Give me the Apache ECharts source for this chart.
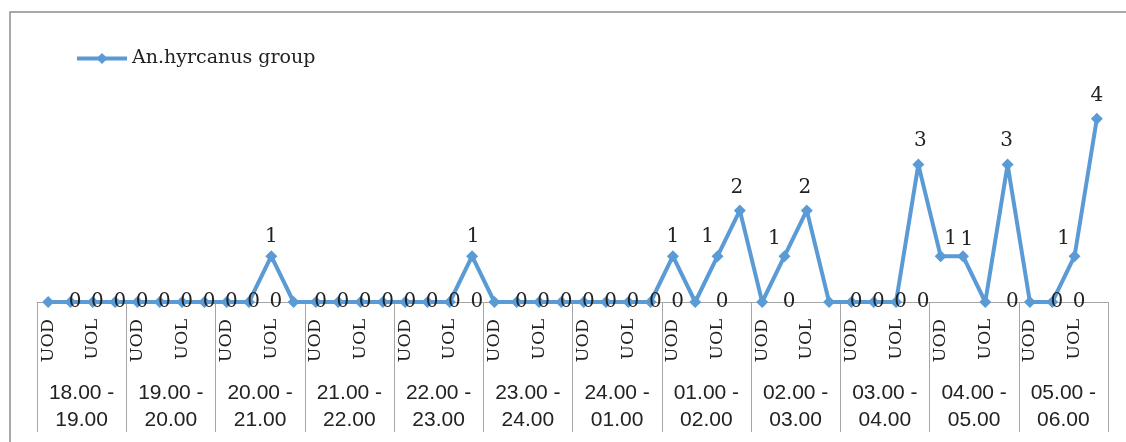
<!DOCTYPE html>
<html>
<head>
<meta charset="utf-8">
<script src="https://cdn.jsdelivr.net/npm/echarts@6/dist/echarts.min.js"></script>
<style>
  html, body { margin: 0; padding: 0; background: #fff; }
  #chart { width: 1126px; height: 442px; }
</style>
</head>
<body>
<div id="chart"></div>
<script>
// Hourly catches, two records under each UOD / UOL slot
const hours = [
  '18.00 -\n19.00', '19.00 -\n20.00', '20.00 -\n21.00', '21.00 -\n22.00',
  '22.00 -\n23.00', '23.00 -\n24.00', '24.00 -\n01.00', '01.00 -\n02.00',
  '02.00 -\n03.00', '03.00 -\n04.00', '04.00 -\n05.00', '05.00 -\n06.00'
];
const sites = ['UOD', 'UOL'];
const seriesName = 'An.hyrcanus group';
const counts = [
  0, 0, 0, 0,   0, 0, 0, 0,   0, 0, 1, 0,   0, 0, 0, 0,
  0, 0, 0, 1,   0, 0, 0, 0,   0, 0, 0, 0,   1, 0, 1, 2,
  0, 1, 2, 0,   0, 0, 0, 3,   1, 1, 0, 3,   0, 0, 1, 4
];

// Label nudges where neighbouring labels would collide: index -> [dx, distance]
const labelShift = {
  10: [0, 3], 19: [1, 3], 28: [0, 3], 30: [-10, 3], 31: [-3, 7],
  33: [-10, 1], 34: [-2, 7], 39: [2, 8], 40: [10, 1], 41: [4, 0],
  43: [-1, 8], 46: [-11, 1], 47: [0, 7]
};

const serif = 'DejaVu Serif';
const textColor = '#222';
const lineColor = '#5B9BD5';

// Inner axis: one slot label per pair of records
const slotLabels = [];
hours.forEach(() => {
  sites.forEach(s => { slotLabels.push(s); slotLabels.push(''); });
});

const seriesData = counts.map((v, i) => {
  if (v === 0) {
    return { value: v, label: { position: 'inside', offset: [27, 0] } };
  }
  const sh = labelShift[i] || [0, 3];
  return { value: v, label: { position: 'top', distance: sh[1], offset: [sh[0], 0] } };
});

const chart = echarts.init(document.getElementById('chart'), null, { renderer: 'canvas' });
chart.setOption({
  animation: false,
  backgroundColor: '#fff',
  graphic: [{
    type: 'rect',
    shape: { x: 10, y: 12, width: 1300, height: 600 },
    style: { fill: 'none', stroke: '#8c8c8c', lineWidth: 1.5 },
    z: 0
  }],
  legend: {
    data: [seriesName],
    left: 70,
    top: 44,
    itemWidth: 50,
    itemHeight: 14,
    itemStyle: { color: lineColor },
    lineStyle: { width: 4, color: lineColor },
    textStyle: { fontFamily: serif, fontSize: 19, color: textColor }
  },
  grid: { left: 37, right: 18, top: 73, bottom: 140 },
  xAxis: [
    {
      type: 'category',
      data: slotLabels,
      boundaryGap: true,
      axisLine: { lineStyle: { color: '#a6a6a6', width: 1 } },
      axisTick: { show: false },
      axisLabel: {
        interval: 0, rotate: 90, margin: 17,
        fontFamily: serif, fontSize: 17.5, color: textColor
      }
    },
    {
      type: 'category',
      data: hours,
      position: 'bottom',
      boundaryGap: true,
      axisLine: { show: false },
      axisTick: { show: true, length: 130, lineStyle: { color: '#a6a6a6', width: 1 } },
      axisLabel: {
        interval: 0, margin: 78, lineHeight: 27,
        fontFamily: 'Liberation Sans', fontSize: 21, color: textColor
      }
    }
  ],
  yAxis: { type: 'value', min: 0, max: 5, show: false },
  series: [{
    name: seriesName,
    type: 'line',
    xAxisIndex: 0,
    data: seriesData,
    symbol: 'diamond',
    symbolSize: 12,
    lineStyle: { color: lineColor, width: 4 },
    itemStyle: { color: lineColor },
    label: {
      show: true,
      fontFamily: serif,
      fontSize: 20,
      color: textColor
    }
  }]
});
</script>
</body>
</html>
